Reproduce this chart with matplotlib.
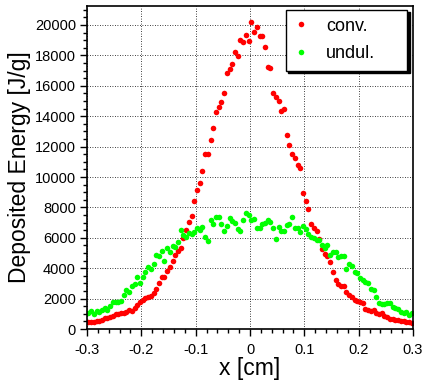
import numpy as np
import matplotlib
matplotlib.use('Agg')
import matplotlib.pyplot as plt
from matplotlib.ticker import MultipleLocator

plt.rcParams['font.family'] = ['Liberation Sans', 'DejaVu Sans']

# bin centres, 0.005 cm wide
x_lo = -0.2975
x_step = 0.005

conv = [
    480, 450, 470, 500, 550, 620, 700, 730, 800, 850,
    990, 980, 1030, 1050, 1140, 1250, 1200, 1350, 1580, 1800,
    1910, 2020, 2090, 2170, 2340, 2610, 3050, 3400, 3450, 3800,
    4100, 4500, 4870, 5100, 5350, 5990, 6500, 7060, 7450, 8420,
    9140, 9620, 10400, 11490, 11490, 12430, 13240, 14300, 14580, 14930,
    15500, 16820, 17100, 17410, 18200, 17960, 19010, 18900, 19360, 18950,
    20200, 19560, 19850, 19300, 19300, 18570, 17260, 17170, 15500, 15240,
    15000, 14360, 14490, 12780, 12120, 11510, 11250, 10790, 10610, 8930,
    8440, 7910, 6890, 6620, 6470, 5920, 5240, 4930, 4820, 4390,
    3770, 3220, 2960, 2850, 2810, 2410, 2260, 2090, 1910, 1820,
    1760, 1730, 1340, 1250, 1200, 1250, 1070, 990, 1030, 855,
    770, 680, 680, 590, 590, 550, 500, 480, 460, 375,
]

undul = [
    1030, 1200, 990, 1200, 1140, 1250, 1360, 1250, 1510, 1800,
    1760, 1800, 1850, 2240, 2570, 2460, 2830, 2960, 3400, 3000,
    3440, 3770, 4100, 3940, 4260, 4870, 4800, 5150, 4490, 5310,
    5050, 5460, 5370, 5740, 6510, 6180, 6070, 6290, 6250, 6380,
    6620, 6510, 6690, 6070, 5810, 7170, 6900, 7390, 7350, 6900,
    6470, 6780, 7280, 7130, 6990, 6560, 6470, 7170, 7610, 7500,
    7170, 7210, 6620, 6650, 6900, 6950, 7170, 7020, 6660, 5900,
    6730, 6450, 6450, 6840, 6880, 7390, 6620, 6620, 6360, 6780,
    6560, 6230, 6070, 5960, 5850, 5880, 5530, 5310, 5530, 4870,
    5090, 5050, 4720, 4780, 4780, 3930, 4260, 4150, 3770, 3660,
    3340, 3250, 3110, 3000, 2650, 2550, 2130, 1730, 1660, 1660,
    1730, 1700, 1430, 1400, 1300, 1140, 1030, 1140, 920, 1030,
]

x_ticks = [-0.3, -0.2, -0.1, 0.0, 0.1, 0.2, 0.3]
x_tick_labels = ['-0.3', '-0.2', '-0.1', '0', '0.1', '0.2', '0.3']

x = x_lo + x_step * np.arange(len(conv))

fig = plt.figure(figsize=(4.25, 3.82), dpi=100)
ax = fig.add_axes([0.2047, 0.1387, 0.7671, 0.8456])

ax.plot(x, conv, 'o', color='#ff0000', ms=4, mew=0, label='conv.')
ax.plot(x, undul, 'o', color='#00ff00', ms=4, mew=0, label='undul.')

ax.set_xlim(-0.3, 0.3)
ax.set_ylim(0, 21250)

ax.set_xticks(x_ticks)
ax.set_xticklabels(x_tick_labels)
ax.xaxis.set_minor_locator(MultipleLocator(0.02))
ax.yaxis.set_major_locator(MultipleLocator(2000))
ax.yaxis.set_minor_locator(MultipleLocator(500))

ax.tick_params(which='major', direction='out', length=5, width=1,
               labelsize=10.5, top=False, right=False)
ax.tick_params(which='minor', direction='out', length=2.8, width=1,
               top=False, right=False)
ax.tick_params(axis='x', pad=5)
ax.tick_params(axis='y', pad=3)

ax.grid(True, which='major', color='black', linestyle=(0, (1, 2)), lw=0.6)

for s in ax.spines.values():
    s.set_linewidth(1.2)

ax.set_xlabel('x [cm]', fontsize=16.5, labelpad=0)
ax.set_ylabel('Deposited Energy [J/g]', fontsize=16.5, labelpad=3)

leg = ax.legend(loc='lower left', bbox_to_anchor=(0.609, 0.80, 0.373, 0.177),
                mode='expand', borderaxespad=0, fancybox=False,
                edgecolor='black', framealpha=1, fontsize=13,
                handlelength=0.8, handletextpad=1.0, labelspacing=0.6,
                borderpad=0.45, markerscale=1.0,
                shadow={'color': 'black', 'alpha': 1})
leg.get_frame().set_linewidth(1.0)

fig.savefig('out.png', dpi=100)
